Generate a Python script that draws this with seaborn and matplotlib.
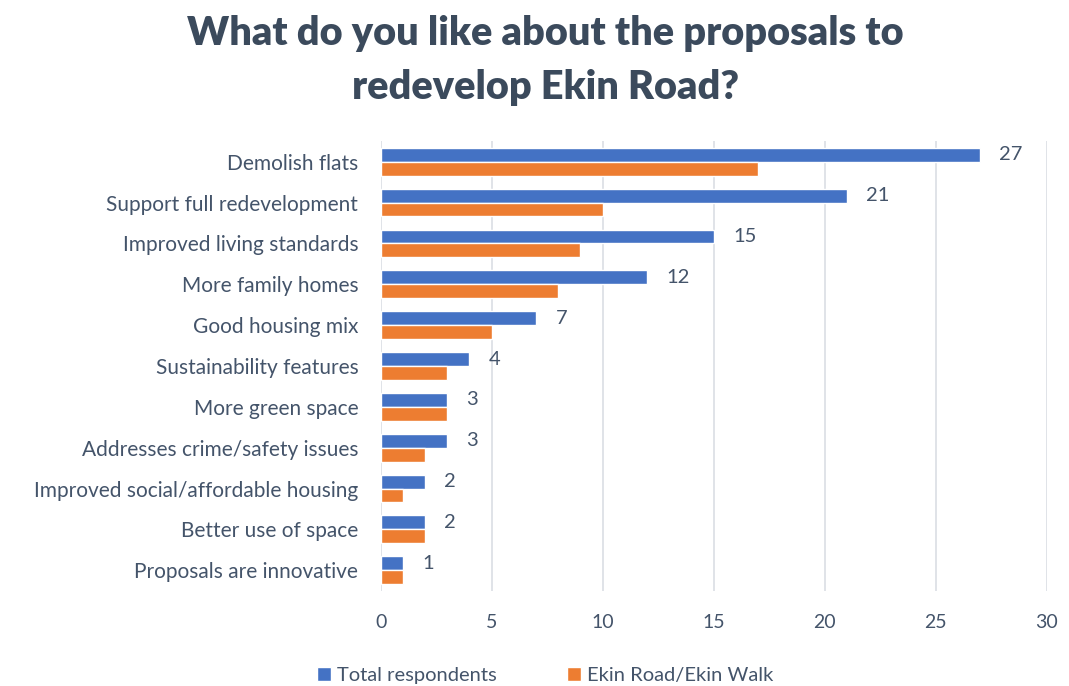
import pandas as pd
import matplotlib.pyplot as plt
import seaborn as sns

# Survey responses
categories = [
    "Demolish flats",
    "Support full redevelopment",
    "Improved living standards",
    "More family homes",
    "Good housing mix",
    "Sustainability features",
    "More green space",
    "Addresses crime/safety issues",
    "Improved social/affordable housing",
    "Better use of space",
    "Proposals are innovative",
]
total_respondents = [27, 21, 15, 12, 7, 4, 3, 3, 2, 2, 1]
ekin_road = [17, 10, 9, 8, 5, 3, 3, 2, 1, 2, 1]
series_names = ["Total respondents", "Ekin Road/Ekin Walk"]

df = pd.DataFrame({
    "category": categories * 2,
    "count": total_respondents + ekin_road,
    "group": [series_names[0]] * len(categories) + [series_names[1]] * len(categories),
})

sns.set_style("white")
plt.rcParams['font.family'] = ['Lato', 'DejaVu Sans']
text_col = '#44546A'

fig = plt.figure(figsize=(10.69, 6.86), dpi=100)
ax = fig.add_axes([0.356, 0.139, 0.623, 0.655])

sns.barplot(data=df, y="category", x="count", hue="group", orient="h",
            palette=["#4472C4", "#ED7D31"], width=0.68, ax=ax,
            order=categories, hue_order=series_names, saturation=1)

# Value labels on the total bars
ax.bar_label(ax.containers[0], padding=14, fontsize=14.5, color=text_col)

ax.set_xlim(0, 30)
ax.set_xticks(range(0, 31, 5))
ax.xaxis.grid(True, color='#DDE1E6', linewidth=1.3)
ax.set_axisbelow(True)
for s in ax.spines.values():
    s.set_visible(False)
ax.set_xlabel('')
ax.set_ylabel('')
ax.tick_params(axis='x', labelsize=14, colors=text_col, pad=17, length=0)
ax.tick_params(axis='y', labelsize=15, colors=text_col, pad=16, length=0)

handles, labels = ax.get_legend_handles_labels()
ax.legend_.remove()
fig.legend(handles, labels, loc='center', bbox_to_anchor=(0.51, 0.015), ncol=2,
           frameon=False, fontsize=14.5, labelcolor=text_col, handlelength=0.7,
           handleheight=0.7, handletextpad=0.3, columnspacing=3.5)

fig.suptitle("What do you like about the proposals to\nredevelop Ekin Road?",
             x=0.51, y=0.912, va='center', fontsize=28.5, fontweight='heavy',
             color='#3B4A5C', linespacing=1.55)

fig.savefig('out.png', dpi=100)
